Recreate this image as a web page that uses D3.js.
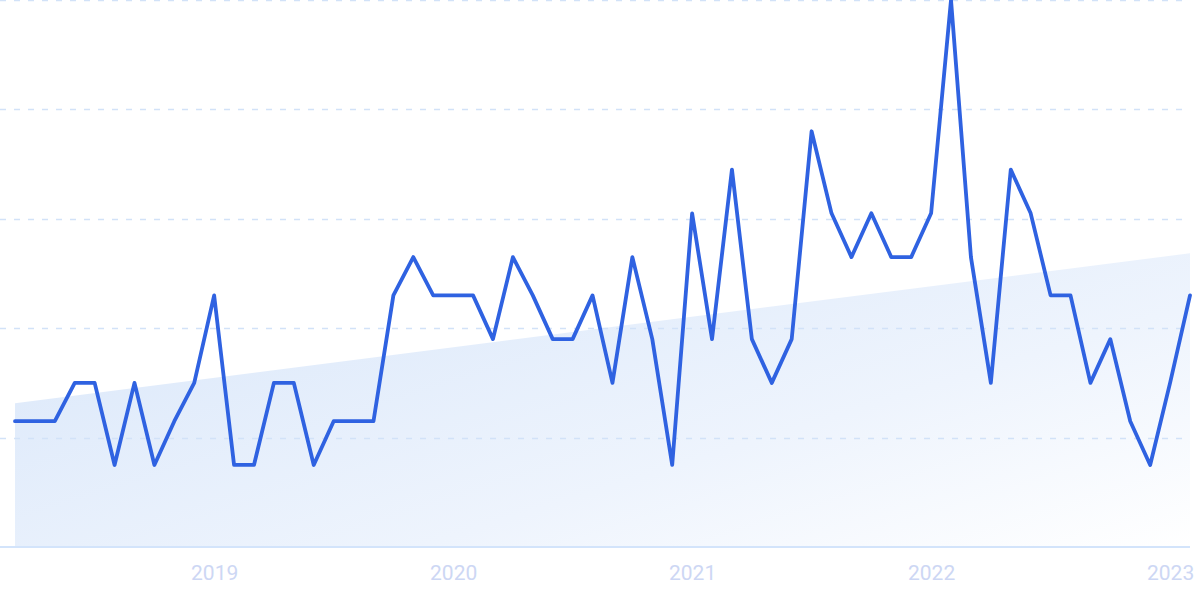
<!DOCTYPE html>
<html>
<head>
<meta charset="utf-8">
<script src="https://cdn.jsdelivr.net/npm/d3@7"></script>
<style>
  html, body { margin: 0; padding: 0; background: #ffffff; }
  svg { display: block; }
</style>
</head>
<body>
<svg id="chart" width="1200" height="599"></svg>
<script>
// ---- data (monthly, Mar 2018 .. Feb 2023, relative interest 0-100) ----
const months = d3.range(60).map(i => new Date(2018, 2 + i, 1));
const values = [
  23, 23, 23, 30, 30, 15, 30, 15, 23, 30,
  46, 15, 15, 30, 30, 15, 23, 23, 23, 46,
  53, 46, 46, 46, 38, 53, 46, 38, 38, 46,
  30, 53, 38, 15, 61, 38, 69, 38, 30, 38,
  76, 61, 53, 61, 53, 53, 61, 100, 53, 30,
  69, 61, 46, 46, 30, 38, 23, 15, 30, 46
];
const trendValues = [26.3, 53.7];           // start / end of trend band
const gridValues = [20, 40, 60, 80, 100];
const tickIndex = [10, 22, 34, 46, 58];
const tickLabels = ["2019", "2020", "2021", "2022", "2023"];

// ---- layout ----
const svg = d3.select("#chart");
const plotLeft = 15, plotRight = 1190, plotTop = 0, plotBottom = 547;

const x = d3.scaleLinear().domain([0, values.length - 1]).range([plotLeft, plotRight]);
const y = d3.scaleLinear().domain([0, 100]).range([plotBottom, plotTop]);

const defs = svg.append("defs");
const grad = defs.append("linearGradient")
  .attr("id", "trendGrad")
  .attr("x1", "0").attr("y1", "0.2")
  .attr("x2", "1").attr("y2", "1");
grad.append("stop").attr("offset", "0%").attr("stop-color", "#dbe8fa");
grad.append("stop").attr("offset", "60%").attr("stop-color", "#eef4fd");
grad.append("stop").attr("offset", "100%").attr("stop-color", "#ffffff");

// trend band
const trendPts = [
  [0, trendValues[0]],
  [values.length - 1, trendValues[1]]
];
svg.append("path")
  .datum(trendPts)
  .attr("fill", "url(#trendGrad)")
  .attr("d", d3.area()
    .x(d => x(d[0]))
    .y0(y(0))
    .y1(d => y(d[1])));

// grid lines
svg.append("g")
  .selectAll("line")
  .data(gridValues)
  .join("line")
  .attr("x1", 0).attr("x2", plotRight - 4)
  .attr("y1", d => Math.round(y(d)) + 0.5)
  .attr("y2", d => Math.round(y(d)) + 0.5)
  .attr("stroke", "#d2e2f8")
  .attr("stroke-width", 1.3)
  .attr("stroke-dasharray", "6,8");

// baseline
svg.append("line")
  .attr("x1", 0).attr("x2", plotRight)
  .attr("y1", y(0)).attr("y2", y(0))
  .attr("stroke", "#d3e4fb")
  .attr("stroke-width", 2);

// x axis labels
const axis = d3.axisBottom(x)
  .tickValues(tickIndex)
  .tickFormat((d, i) => tickLabels[i])
  .tickSize(0)
  .tickPadding(0);
const gAxis = svg.append("g")
  .attr("transform", `translate(0,${y(0)})`)
  .call(axis);
gAxis.select(".domain").remove();
gAxis.selectAll("text")
  .attr("y", 33)
  .attr("dy", 0)
  .attr("fill", "#cdd7f4")
  .style("font-family", "Roboto, 'Open Sans', sans-serif")
  .style("font-size", "21px");

// main line
svg.append("path")
  .datum(values)
  .attr("fill", "none")
  .attr("stroke", "#2f62e1")
  .attr("stroke-width", 3.8)
  .attr("stroke-linejoin", "round")
  .attr("stroke-linecap", "round")
  .attr("d", d3.line()
    .x((d, i) => x(i))
    .y(d => y(d)));
</script>
</body>
</html>
